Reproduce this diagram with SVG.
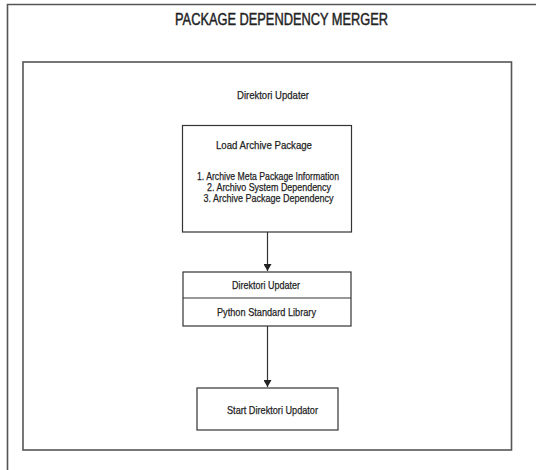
<svg xmlns="http://www.w3.org/2000/svg" width="536" height="470" viewBox="0 0 536 470">
  <style>
    .frame { fill: none; stroke: #555; stroke-width: 1.6; }
    .box { fill: #fff; stroke: #333; stroke-width: 1.2; }
    .t { font-family: "Liberation Sans", Arial, sans-serif; fill: #222; stroke: #222; stroke-width: 0.25; text-anchor: middle; }
    .s { font-size: 11.5px; }
    .title { font-size: 16.5px; stroke-width: 0.45; }
    .conn { stroke: #333; stroke-width: 1.2; fill: none; }
  </style>
  <defs>
    <marker id="arrow" markerWidth="8" markerHeight="8" refX="7" refY="4" orient="auto" markerUnits="userSpaceOnUse">
      <path d="M0,0 L7,4 L0,8 z" fill="#222"/>
    </marker>
  </defs>
  <rect width="536" height="470" fill="#fff"/>
  <g id="page-frame">
    <path class="frame" d="M7.5,470 L7.5,4.5 L536,4.5"/>
  </g>
  <g id="title">
    <text class="t title" x="281.5" y="25" textLength="213" lengthAdjust="spacingAndGlyphs">PACKAGE DEPENDENCY MERGER</text>
  </g>
  <g id="container">
    <rect class="frame" x="23" y="62" width="488.5" height="388"/>
    <text class="t s" x="273" y="99" textLength="72" lengthAdjust="spacingAndGlyphs">Direktori Updater</text>
  </g>
  <g id="connectors">
    <line class="conn" x1="267.5" y1="232" x2="267.5" y2="271" marker-end="url(#arrow)"/>
    <line class="conn" x1="267.5" y1="326" x2="267.5" y2="387" marker-end="url(#arrow)"/>
  </g>
  <g id="load-archive-package">
    <rect class="box" x="182.5" y="125.5" width="169" height="106.5"/>
    <text class="t s" x="264" y="149" textLength="96" lengthAdjust="spacingAndGlyphs">Load Archive Package</text>
    <text class="t s" x="268" y="180" textLength="142" lengthAdjust="spacingAndGlyphs">1. Archive Meta Package Information</text>
    <text class="t s" x="269" y="191" textLength="124" lengthAdjust="spacingAndGlyphs">2. Archivo System Dependency</text>
    <text class="t s" x="268.5" y="202" textLength="130" lengthAdjust="spacingAndGlyphs">3. Archive Package Dependency</text>
  </g>
  <g id="direktori-updater">
    <rect class="box" x="183" y="272" width="168" height="54"/>
    <line class="conn" x1="183" y1="298" x2="351" y2="298"/>
    <text class="t s" x="266" y="289" textLength="68" lengthAdjust="spacingAndGlyphs">Direktori Updater</text>
    <text class="t s" x="266.5" y="316" textLength="99" lengthAdjust="spacingAndGlyphs">Python Standard Library</text>
  </g>
  <g id="start-direktori-updator">
    <rect class="box" x="197" y="388" width="141" height="42"/>
    <text class="t s" x="272.5" y="414" textLength="91" lengthAdjust="spacingAndGlyphs">Start Direktori Updator</text>
  </g>
</svg>
